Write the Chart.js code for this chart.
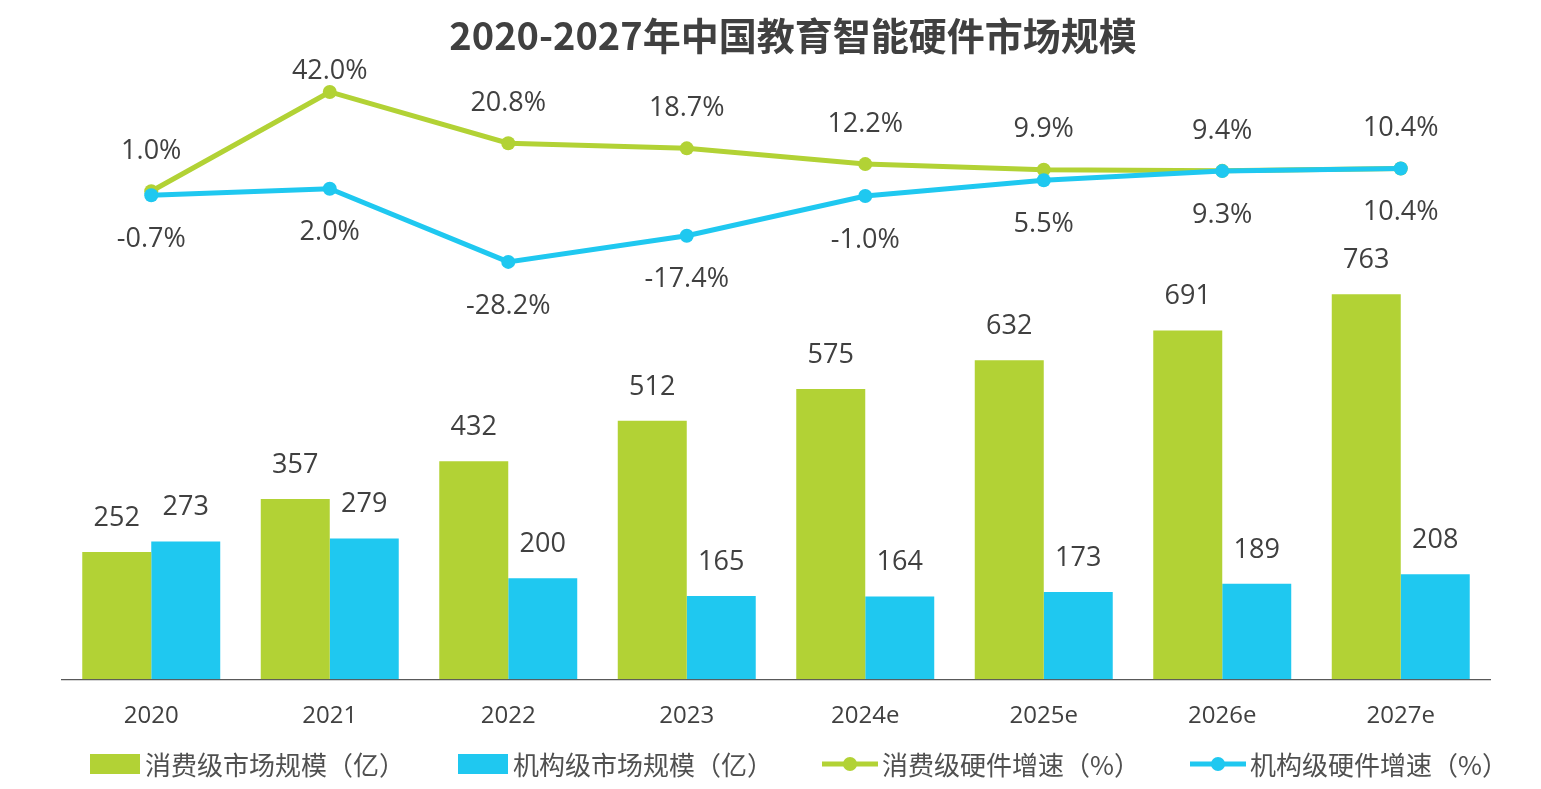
<!DOCTYPE html>
<html>
<head>
<meta charset="utf-8">
<script src="https://cdn.jsdelivr.net/npm/chart.js@4.4.1/dist/chart.umd.min.js"></script>
<style>
  html, body { margin: 0; padding: 0; background: #fff; }
  #wrap { width: 1541px; height: 789px; }
</style>
</head>
<body>
<div id="wrap"><canvas id="myChart" width="1541" height="789"></canvas></div>
<script>
var years = ['2020', '2021', '2022', '2023', '2024e', '2025e', '2026e', '2027e'];
var consumerSize = [252, 357, 432, 512, 575, 632, 691, 763];
var institutionSize = [273, 279, 200, 165, 164, 173, 189, 208];
var consumerGrowth = [1.0, 42.0, 20.8, 18.7, 12.2, 9.9, 9.4, 10.4];
var institutionGrowth = [-0.7, 2.0, -28.2, -17.4, -1.0, 5.5, 9.3, 10.4];
var legendNames = ['消费级市场规模（亿）', '机构级市场规模（亿）', '消费级硬件增速（%）', '机构级硬件增速（%）'];
var titleText = '2020-2027年中国教育智能硬件市场规模';

var GREEN = '#b2d235';
var BLUE = '#1fc8f0';
var TEXT = '#404040';
var NUM_FONT = '"Open Sans", "Noto Sans", sans-serif';
var CJK_FONT = '"Noto Sans CJK SC", "Noto Sans", sans-serif';

// value labels on bars and line points
var valueLabels = {
    id: 'valueLabels',
    afterDatasetsDraw(chart) {
        var ctx = chart.ctx;
        ctx.save();
        ctx.fillStyle = TEXT;
        ctx.textAlign = 'center';
        ctx.textBaseline = 'middle';
        ctx.font = '27px ' + NUM_FONT;
        chart.data.datasets.forEach(function(ds, i) {
            var meta = chart.getDatasetMeta(i);
            meta.data.forEach(function(el, j) {
                var v = ds.data[j];
                if (ds.type === 'bar') {
                    ctx.fillText(String(v), el.x, el.y - 34);
                } else if (ds.labelPos === 'above') {
                    ctx.fillText(v.toFixed(1) + '%', el.x, Math.max(el.y - 40, chart.chartArea.top + 11));
                } else {
                    ctx.fillText(v.toFixed(1) + '%', el.x, el.y + 44);
                }
            });
        });
        ctx.restore();
    }
};

// title + legend drawn by hand (legend mixes boxes and line markers)
var titleLegend = {
    id: 'titleLegend',
    afterDraw(chart) {
        var ctx = chart.ctx;
        ctx.save();
        ctx.fillStyle = TEXT;
        ctx.textAlign = 'center';
        ctx.textBaseline = 'middle';
        ctx.font = 'bold 38px ' + CJK_FONT;
        ctx.fillText(titleText, 793, 36);

        var ly = 764;
        var starts = [90, 458, 822, 1190];
        ctx.font = '26px ' + CJK_FONT;
        ctx.textAlign = 'left';
        chart.data.datasets.forEach(function(ds) {
            var k = ds.legendIndex;
            var x = starts[k];
            if (ds.type === 'bar') {
                ctx.fillStyle = ds.backgroundColor;
                ctx.fillRect(x, ly - 10, 50, 20);
                x += 55;
            } else {
                ctx.strokeStyle = ds.borderColor;
                ctx.lineWidth = 5;
                ctx.beginPath();
                ctx.moveTo(x, ly);
                ctx.lineTo(x + 56, ly);
                ctx.stroke();
                ctx.fillStyle = ds.borderColor;
                ctx.beginPath();
                ctx.arc(x + 28, ly, 7, 0, Math.PI * 2);
                ctx.fill();
                x += 60;
            }
            ctx.fillStyle = '#505050';
            ctx.fillText(legendNames[k], x, ly + 1);
        });
        ctx.restore();
    }
};

function loadChart() {
    const ctx = document.getElementById('myChart').getContext('2d');

    const myChart = new Chart(ctx, {
        type: 'bar',
        data: {
            labels: years,
            datasets: [
                {
                    type: 'line',
                    label: legendNames[3],
                    legendIndex: 3,
                    labelPos: 'below',
                    data: institutionGrowth,
                    yAxisID: 'y2',
                    borderColor: BLUE,
                    backgroundColor: BLUE,
                    borderWidth: 5,
                    pointRadius: 7,
                    pointBorderWidth: 0,
                    pointBackgroundColor: BLUE,
                    tension: 0,
                    order: 0
                },
                {
                    type: 'line',
                    label: legendNames[2],
                    legendIndex: 2,
                    labelPos: 'above',
                    data: consumerGrowth,
                    yAxisID: 'y2',
                    borderColor: GREEN,
                    backgroundColor: GREEN,
                    borderWidth: 5,
                    pointRadius: 7,
                    pointBorderWidth: 0,
                    pointBackgroundColor: GREEN,
                    tension: 0,
                    order: 1
                },
                {
                    type: 'bar',
                    label: legendNames[0],
                    legendIndex: 0,
                    data: consumerSize,
                    yAxisID: 'y',
                    backgroundColor: GREEN,
                    categoryPercentage: 0.773,
                    barPercentage: 1,
                    order: 2
                },
                {
                    type: 'bar',
                    label: legendNames[1],
                    legendIndex: 1,
                    data: institutionSize,
                    yAxisID: 'y',
                    backgroundColor: BLUE,
                    categoryPercentage: 0.773,
                    barPercentage: 1,
                    order: 2
                }
            ]
        },
        options: {
            responsive: false,
            animation: false,
            devicePixelRatio: 1,
            layout: {
                padding: { left: 62, right: 51, top: 60, bottom: 35 }
            },
            scales: {
                x: {
                    grid: { display: false, drawTicks: false },
                    border: { display: true, color: '#595959', width: 1.3 },
                    ticks: {
                        color: TEXT,
                        padding: 23,
                        font: { size: 24, family: NUM_FONT }
                    }
                },
                y: {
                    display: false,
                    min: 0,
                    max: 1227
                },
                y2: {
                    display: false,
                    min: -200.6,
                    max: 55.2
                }
            },
            plugins: {
                legend: { display: false },
                title: { display: false },
                tooltip: { enabled: false }
            }
        },
        plugins: [valueLabels, titleLegend]
    });
}

loadChart();
</script>
</body>
</html>
